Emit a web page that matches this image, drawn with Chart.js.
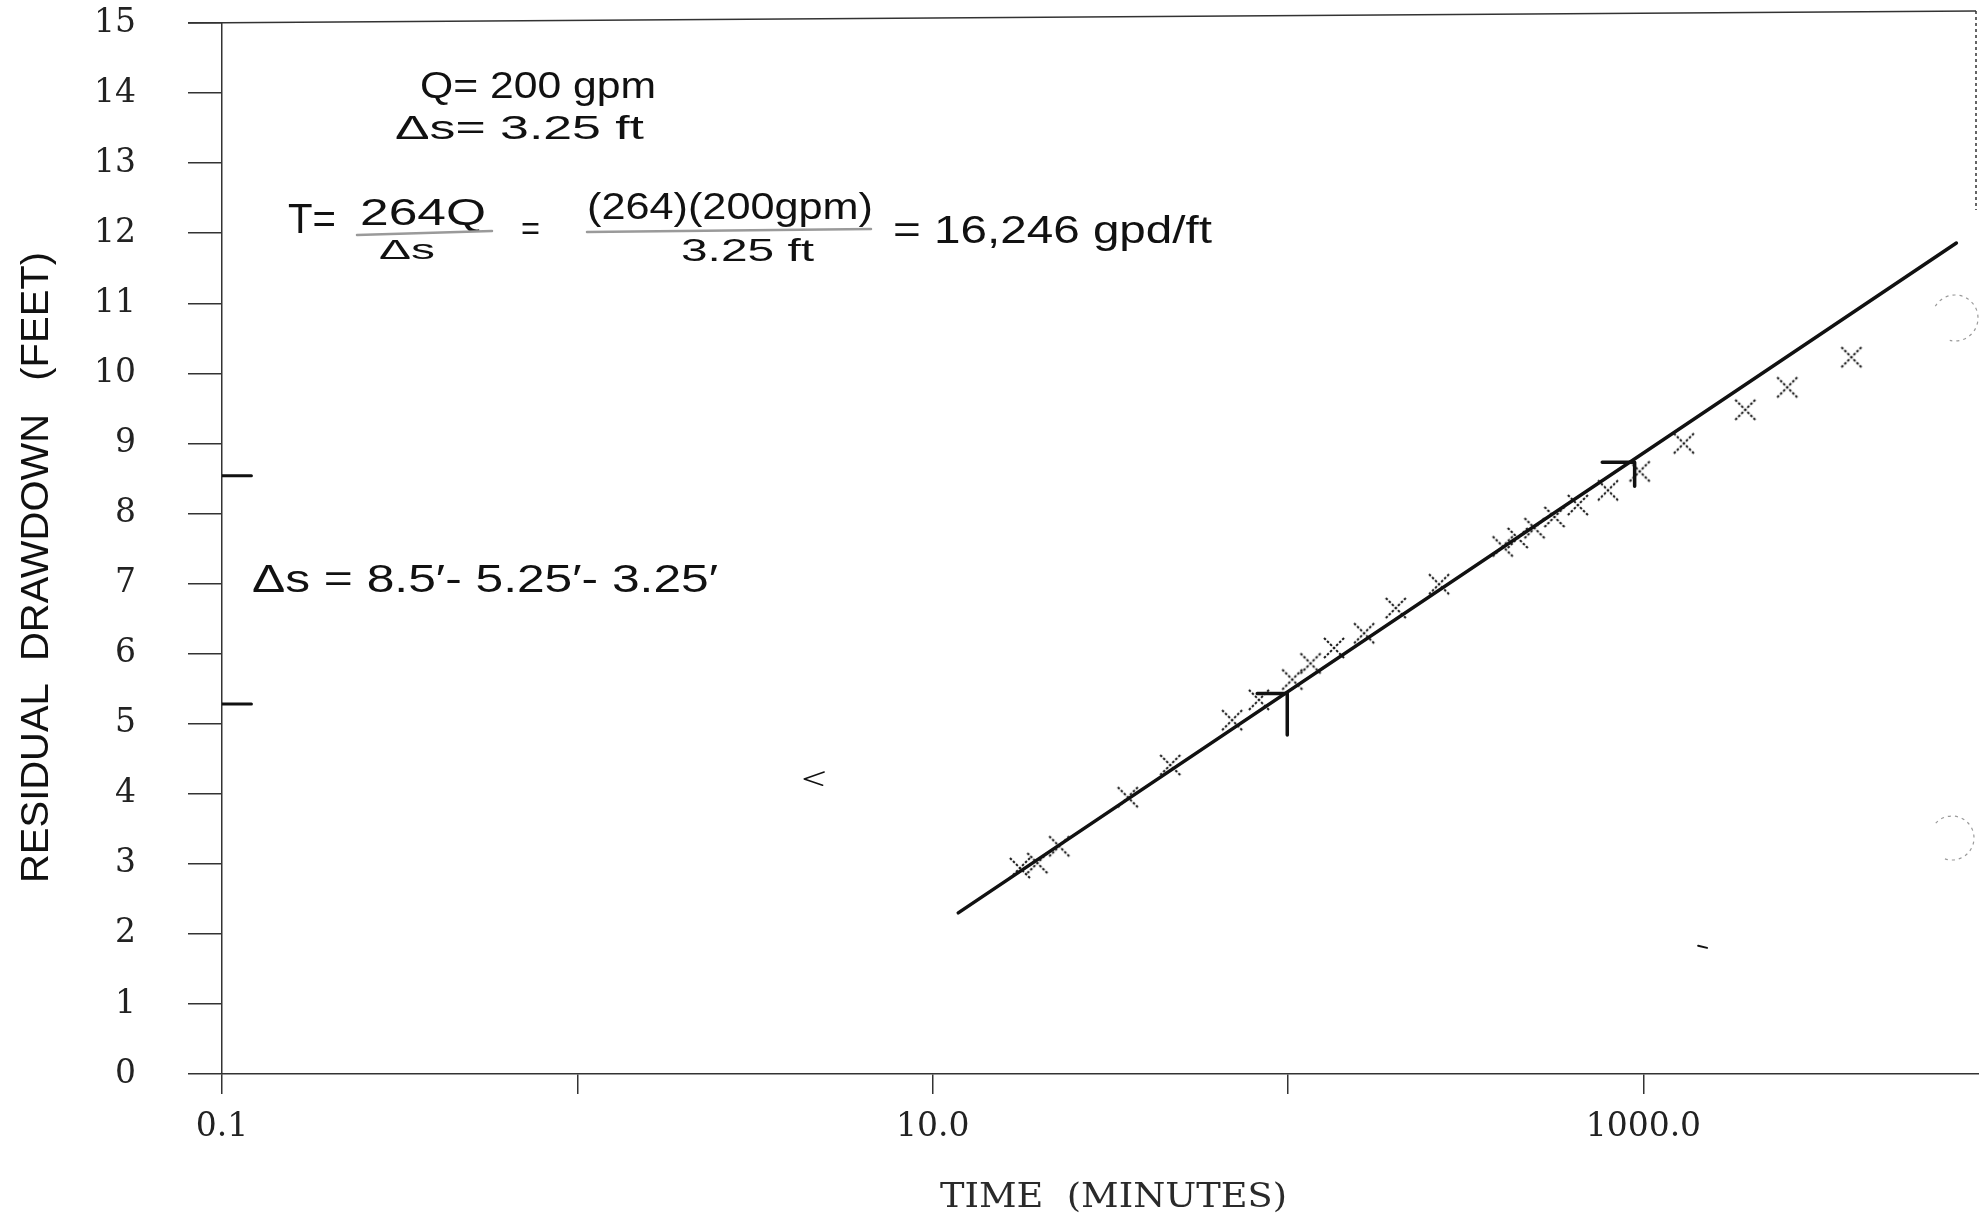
<!DOCTYPE html>
<html>
<head>
    <title>Residual Drawdown</title>
    <style>
        body {
            margin: 0;
            padding: 0;
            background-color: #ffffff;
        }
        #chart {
            display: block;
        }
    </style>
</head>
<body>
<canvas id="chart" width="1979" height="1213"></canvas>
<script src="https://cdn.jsdelivr.net/npm/chart.js"></script>
<script>
    // Recovery readings: time (minutes) vs residual drawdown (feet)
    const timeMinutes = [17.6, 19.7, 22.7, 35.4, 46.6, 69.6, 82.8, 102.8, 115.7, 134.7, 163.7, 201,
                         266, 402, 443, 494, 562, 654, 795, 976, 1300, 1935, 2540, 3850];
    const drawdownFeet = [2.94, 3.01, 3.25, 3.95, 4.41, 5.05, 5.34, 5.63, 5.86, 6.08, 6.29, 6.65,
                          6.99, 7.53, 7.65, 7.79, 7.95, 8.12, 8.33, 8.60, 9.00, 9.48, 9.80, 10.23];

    // Straight line drawn through the points
    const fitTime = [11.8, 7600];
    const fitDrawdown = [2.30, 11.86];

    // Hooks marking one log cycle (100 and 1000 minutes)
    const hookTime1 = [81.9, 99.5, 99.5];
    const hookDrawdown1 = [5.43, 5.43, 4.84];
    const hookTime2 = [766, 945, 945];
    const hookDrawdown2 = [8.73, 8.73, 8.39];

    // Short marks at the y axis for the two readings
    const markTime = [0.1, 0.121];
    const markHigh = [8.54, 8.54];
    const markLow = [5.28, 5.28];

    // Stray pen marks on the sheet
    const strayTime = [4.95, 4.35, 4.9];
    const strayDrawdown = [4.31, 4.21, 4.12];
    const dashTime = [1426, 1511];
    const dashDrawdown = [1.83, 1.80];

    // Axes
    const xTicks = [0.1, 1, 10, 100, 1000];
    const xTickLabels = ['0.1', '', '10.0', '', '1000.0'];
    const yTicks = [0, 1, 2, 3, 4, 5, 6, 7, 8, 9, 10, 11, 12, 13, 14, 15];

    const INK = '#111111';
    const AXIS = '#333333';

    function pts(xs, ys) {
      return xs.map((x, i) => ({ x: x, y: ys[i] }));
    }

    // dotted "x" like the plotter marks
    function dottedCross(size) {
      const c = document.createElement('canvas');
      c.width = size;
      c.height = size;
      const g = c.getContext('2d');
      g.strokeStyle = '#151515';
      g.lineWidth = 2;
      g.setLineDash([2.5, 1.8]);
      g.beginPath();
      g.moveTo(2, 2); g.lineTo(size - 2, size - 2);
      g.moveTo(size - 2, 2); g.lineTo(2, size - 2);
      g.stroke();
      return c;
    }

    function penLine(label, xs, ys, width) {
      return {
        label: label,
        data: pts(xs, ys),
        showLine: true,
        borderColor: INK,
        borderWidth: width,
        pointRadius: 0,
        borderCapStyle: 'round',
        borderJoinStyle: 'round',
      };
    }

    // text squeezed/stretched to the width it takes on the sheet
    function fitText(ctx, text, x, baseline, width, font) {
      ctx.font = font;
      const w = ctx.measureText(text).width;
      ctx.save();
      ctx.translate(x, baseline);
      ctx.scale(width / w, 1);
      ctx.fillText(text, 0, 0);
      ctx.restore();
    }

    const hand = (size) => size + 'px "Liberation Sans"';
    const printer = (size) => size + 'px "DejaVu Serif"';

    const sheetNotes = {
      id: 'sheetNotes',
      afterDraw(chart) {
        const ctx = chart.ctx;
        ctx.save();
        ctx.fillStyle = INK;
        ctx.strokeStyle = INK;
        ctx.textAlign = 'left';
        ctx.textBaseline = 'alphabetic';

        // frame bits from the scan
        ctx.strokeStyle = AXIS;
        ctx.lineWidth = 1.5;
        ctx.beginPath();
        ctx.moveTo(188, 23);
        ctx.lineTo(1976, 11);
        ctx.stroke();
        ctx.setLineDash([3, 3]);
        ctx.beginPath();
        ctx.moveTo(1976, 11);
        ctx.lineTo(1976, 210);
        ctx.stroke();

        // hole punches
        ctx.strokeStyle = '#9a9a9a';
        ctx.lineWidth = 1.2;
        ctx.setLineDash([3, 4]);
        ctx.beginPath();
        ctx.arc(1955, 318, 23, -2.6, 1.8);
        ctx.stroke();
        ctx.beginPath();
        ctx.arc(1952, 838, 22, -2.4, 1.9);
        ctx.stroke();
        ctx.setLineDash([]);

        // axis titles
        ctx.fillStyle = '#2a2a2a';
        fitText(ctx, 'TIME  (MINUTES)', 940, 1207, 347, printer(34));
        ctx.fillStyle = INK;
        ctx.save();
        ctx.translate(48, 883);
        ctx.rotate(-Math.PI / 2);
        fitText(ctx, 'RESIDUAL  DRAWDOWN   (FEET)', 0, 0, 631, hand(38));
        ctx.restore();

        // hand notes
        fitText(ctx, 'Q= 200 gpm', 420, 98, 236, hand(36));
        fitText(ctx, '\u0394s= 3.25 ft', 395, 139, 249, hand(34));

        fitText(ctx, 'T=', 288, 233, 48, hand(42));
        fitText(ctx, '264Q', 360, 225, 126, hand(36));
        fitText(ctx, '\u0394s', 379, 259, 56, hand(28));
        fitText(ctx, '=', 521, 240, 19, hand(34));
        fitText(ctx, '(264)(200gpm)', 587, 219, 286, hand(36));
        fitText(ctx, '3.25 ft', 681, 261, 133, hand(32));
        fitText(ctx, '= 16,246 gpd/ft', 893, 243, 319, hand(38));

        ctx.lineWidth = 2.5;
        ctx.lineCap = 'round';
        ctx.beginPath();
        ctx.moveTo(357, 235); ctx.lineTo(492, 231);
        ctx.moveTo(587, 232); ctx.lineTo(871, 229);
        ctx.stroke();

        fitText(ctx, '\u0394s = 8.5\u2032- 5.25\u2032- 3.25\u2032', 252, 592, 466, hand(38));

        ctx.restore();
      }
    };

    const ctx = document.getElementById('chart').getContext('2d');

    const chart = new Chart(ctx, {
      type: 'scatter',
      data: {
        datasets: [
          {
            label: 'Residual drawdown',
            data: pts(timeMinutes, drawdownFeet),
            pointStyle: dottedCross(24),
            pointRadius: 12,
            showLine: false,
          },
          penLine('Fit', fitTime, fitDrawdown, 3.5),
          penLine('Cycle 100', hookTime1, hookDrawdown1, 3.5),
          penLine('Cycle 1000', hookTime2, hookDrawdown2, 3.5),
          penLine('8.5 ft', markTime, markHigh, 3),
          penLine('5.25 ft', markTime, markLow, 3),
          penLine('stray', strayTime, strayDrawdown, 1.5),
          penLine('stray dash', dashTime, dashDrawdown, 2),
        ],
      },
      options: {
        responsive: false,
        animation: false,
        events: [],
        layout: {
          autoPadding: false,
          padding: { top: 23, right: 0, bottom: 0, left: 0 },
        },
        plugins: {
          legend: { display: false },
          tooltip: { enabled: false },
        },
        scales: {
          x: {
            type: 'logarithmic',
            min: 0.1,
            max: 8800,
            afterBuildTicks: (scale) => {
              scale.ticks = xTicks.map(v => ({ value: v }));
            },
            afterFit: (scale) => {
              scale.height = 139;
              scale.paddingLeft = 0;
              scale.paddingRight = 0;
            },
            ticks: {
              autoSkip: false,
              maxRotation: 0,
              padding: 14,
              color: '#222222',
              font: { family: 'DejaVu Serif', size: 33 },
              callback: (value, index) => xTickLabels[index],
            },
            grid: {
              drawOnChartArea: false,
              tickLength: 20,
              color: AXIS,
              lineWidth: 1.5,
            },
            border: { color: AXIS, width: 1.5 },
          },
          y: {
            min: 0,
            max: 15,
            afterBuildTicks: (scale) => {
              scale.ticks = yTicks.map(v => ({ value: v }));
            },
            afterFit: (scale) => {
              scale.width = 222;
              scale.paddingTop = 0;
              scale.paddingBottom = 0;
            },
            ticks: {
              padding: 52,
              color: '#222222',
              font: { family: 'DejaVu Serif', size: 33 },
            },
            grid: {
              drawOnChartArea: false,
              tickLength: 34,
              color: AXIS,
              lineWidth: 1.5,
            },
            border: { color: AXIS, width: 1.5 },
          },
        },
      },
      plugins: [sheetNotes],
    });
</script>
</body>
</html>
